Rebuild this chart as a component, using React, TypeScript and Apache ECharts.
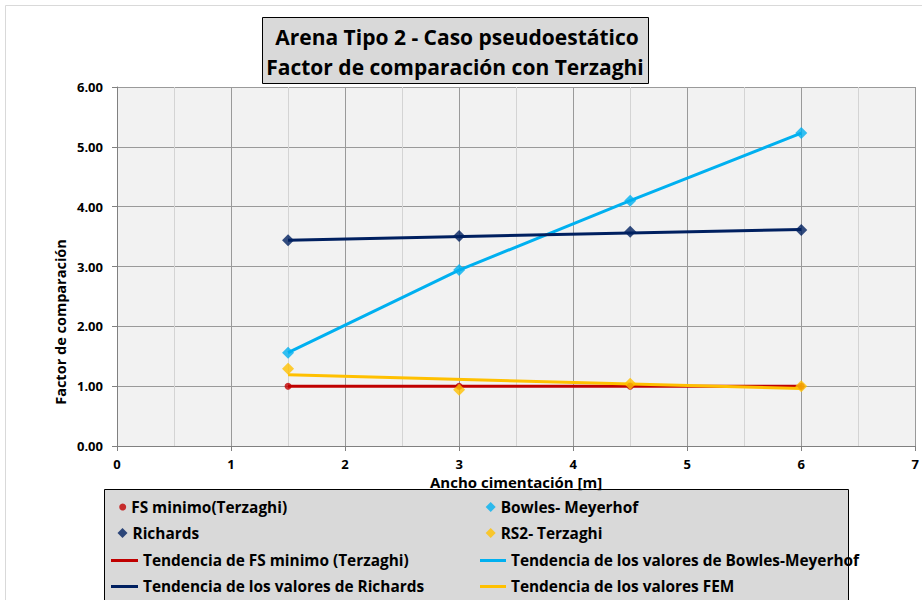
import React, { useEffect, useRef } from "react";
import * as echarts from "echarts";

const xValues = [1.5, 3, 4.5, 6];
const fsMinimo = [1.0, 1.0, 1.0, 1.0];
const bowles = [1.56, 2.94, 4.1, 5.23];
const richards = [3.44, 3.51, 3.58, 3.61];
const rs2 = [1.29, 0.94, 1.04, 1.0];

const trendFSX = [1.5, 6];
const trendFS = [1.0, 1.0];
const trendBowlesX = [1.5, 3, 4.5, 6];
const trendBowles = [1.56, 2.94, 4.1, 5.23];
const trendRichardsX = [1.5, 6];
const trendRichards = [3.44, 3.62];
const trendFEMX = [1.5, 6];
const trendFEM = [1.19, 0.96];

const xTicks = [0, 1, 2, 3, 4, 5, 6, 7];
const yTicks = [0, 1, 2, 3, 4, 5, 6];

const titleLines = ["Arena Tipo 2 - Caso pseudoestático", "Factor de comparación con Terzaghi"];
const names = {
  fs: "FS minimo(Terzaghi)",
  bowles: "Bowles- Meyerhof",
  richards: "Richards",
  rs2: "RS2- Terzaghi",
  tFS: "Tendencia de FS minimo (Terzaghi)",
  tBowles: "Tendencia de los valores de Bowles-Meyerhof",
  tRichards: "Tendencia de los valores de Richards",
  tFEM: "Tendencia de los valores FEM",
};

const FONT = "'Open Sans', sans-serif";

const pair = (xs: number[], ys: number[]) => xs.map((x, i) => [x, ys[i]]);

export default function App() {
  const ref = useRef<HTMLDivElement>(null);
  useEffect(() => {
    if (!ref.current) return;
    const chart = echarts.init(ref.current, undefined, { renderer: "svg" });
    const legendText = { fontFamily: FONT, fontWeight: "bold" as const, fontSize: 15.4, color: "#000", lineHeight: 16 };
    const markerLegend = (name: string, cx: number, cy: number, size: number, textX: number) => ({
      data: [name],
      left: cx - size / 2,
      top: cy - 8,
      padding: 0,
      itemWidth: size,
      itemHeight: size,
      itemGap: 0,
      textGap: Math.max(0.01, textX - (cx + size / 2) - 1),
      textStyle: legendText,
      selectedMode: false,
    });
    const lineLegend = (name: string, x0: number, x1: number, cy: number, textX: number) => ({
      data: [{ name, icon: "rect" }],
      left: x0,
      top: cy - 8,
      padding: 0,
      itemWidth: x1 - x0,
      itemHeight: 3,
      itemGap: 0,
      textGap: Math.max(0.01, textX - x1 - 1),
      textStyle: legendText,
      selectedMode: false,
    });
    chart.setOption({
      animation: false,
      backgroundColor: "#ffffff",
      grid: { left: 117, right: 6, top: 87, bottom: 154 },
      xAxis: {
        type: "value",
        min: 0,
        max: 7,
        interval: 1,
        axisLine: { show: true, lineStyle: { color: "#808080", width: 1 } },
        axisTick: { show: true, length: 5, lineStyle: { color: "#808080" } },
        axisLabel: {
          fontFamily: FONT,
          fontWeight: "bold",
          fontSize: 13,
          color: "#000",
          margin: 11,
          formatter: (v: number) => (xTicks.includes(v) ? String(v) : ""),
        },
        splitLine: { show: true, lineStyle: { color: "#9a9a9a", width: 1 } },
        minorTick: { show: false, splitNumber: 2 },
        minorSplitLine: { show: true, lineStyle: { color: "#d4d4d4", width: 1 } },
        name: "Ancho cimentación [m]",
        nameLocation: "middle",
        nameGap: 21,
        nameTextStyle: { fontFamily: FONT, fontWeight: "bold", fontSize: 15, color: "#000" },
      },
      yAxis: {
        type: "value",
        min: 0,
        max: 6,
        interval: 1,
        axisLine: { show: true, lineStyle: { color: "#808080", width: 1 } },
        axisTick: { show: true, length: 5, lineStyle: { color: "#808080" } },
        axisLabel: {
          fontFamily: FONT,
          fontWeight: "bold",
          fontSize: 13,
          color: "#000",
          margin: 14,
          formatter: (v: number) => (yTicks.includes(v) ? v.toFixed(2) : ""),
        },
        splitLine: { show: true, lineStyle: { color: "#9a9a9a", width: 1 } },
      },
      legend: [
        markerLegend(names.fs, 122.7, 507, 7, 137),
        markerLegend(names.richards, 122.5, 533, 10, 137),
        markerLegend(names.bowles, 490.7, 507, 10, 508),
        markerLegend(names.rs2, 490.7, 533, 10, 508),
        lineLegend(names.tFS, 111, 138, 560.5, 138),
        lineLegend(names.tRichards, 111, 138, 586.5, 138),
        lineLegend(names.tBowles, 480, 506, 560.5, 507),
        lineLegend(names.tFEM, 480, 506, 586.5, 507),
      ],
      graphic: [
        {
          type: "rect",
          z: -10,
          silent: true,
          shape: { x: 5.5, y: 5.5, width: 940, height: 620 },
          style: { fill: "none", stroke: "#d9d9d9", lineWidth: 1 },
        },
        {
          type: "rect",
          z: 0,
          silent: true,
          shape: { x: 117, y: 87, width: 799, height: 359 },
          style: { fill: "#f2f2f2" },
        },
        {
          type: "rect",
          silent: true,
          shape: { x: 262.5, y: 17.5, width: 386, height: 66 },
          style: { fill: "#d9d9d9", stroke: "#000", lineWidth: 1 },
        },
        {
          type: "text",
          silent: true,
          x: 457,
          y: 37,
          style: {
            text: titleLines[0],
            fontFamily: FONT,
            fontWeight: "bold",
            fontSize: 21,
            fill: "#000",
            align: "center",
            verticalAlign: "middle",
          },
        },
        {
          type: "text",
          silent: true,
          x: 455,
          y: 67,
          style: {
            text: titleLines[1],
            fontFamily: FONT,
            fontWeight: "bold",
            fontSize: 21,
            fill: "#000",
            align: "center",
            verticalAlign: "middle",
          },
        },
        {
          type: "rect",
          silent: true,
          z: -1,
          shape: { x: 104.5, y: 489.5, width: 744, height: 120 },
          style: { fill: "#d9d9d9", stroke: "#000", lineWidth: 1 },
        },
        {
          type: "text",
          silent: true,
          x: 60,
          y: 322,
          rotation: Math.PI / 2,
          style: {
            text: "Factor de comparación",
            fontFamily: FONT,
            fontWeight: "bold",
            fontSize: 14.5,
            fill: "#000",
            align: "center",
            verticalAlign: "middle",
          },
        },
      ],
      series: [
        {
          name: names.tFS,
          type: "line",
          data: pair(trendFSX, trendFS),
          symbol: "none",
          lineStyle: { color: "#c00000", width: 3 },
          itemStyle: { color: "#c00000" },
          z: 2,
        },
        {
          name: names.tBowles,
          type: "line",
          data: pair(trendBowlesX, trendBowles),
          symbol: "none",
          lineStyle: { color: "#00b0f0", width: 3 },
          itemStyle: { color: "#00b0f0" },
          z: 2,
        },
        {
          name: names.tRichards,
          type: "line",
          data: pair(trendRichardsX, trendRichards),
          symbol: "none",
          lineStyle: { color: "#002060", width: 3 },
          itemStyle: { color: "#002060" },
          z: 2,
        },
        {
          name: names.tFEM,
          type: "line",
          data: pair(trendFEMX, trendFEM),
          symbol: "none",
          lineStyle: { color: "#ffc000", width: 3 },
          itemStyle: { color: "#ffc000" },
          z: 2,
        },
        {
          name: names.fs,
          type: "scatter",
          data: pair(xValues, fsMinimo),
          symbol: "circle",
          symbolSize: 7,
          itemStyle: { color: "#c00000" },
          z: 3,
        },
        {
          name: names.bowles,
          type: "scatter",
          data: pair(xValues, bowles),
          symbol: "diamond",
          symbolSize: 12,
          itemStyle: { color: "#00b0f0" },
          z: 3,
        },
        {
          name: names.richards,
          type: "scatter",
          data: pair(xValues, richards),
          symbol: "diamond",
          symbolSize: 12,
          itemStyle: { color: "#002060" },
          z: 3,
        },
        {
          name: names.rs2,
          type: "scatter",
          data: pair(xValues, rs2),
          symbol: "diamond",
          symbolSize: 12,
          itemStyle: { color: "#ffc000" },
          z: 3,
        },
      ],
    });
    return () => chart.dispose();
  }, []);
  return <div ref={ref} style={{ width: 922, height: 600, position: "absolute", left: 0, top: 0 }} />;
}
